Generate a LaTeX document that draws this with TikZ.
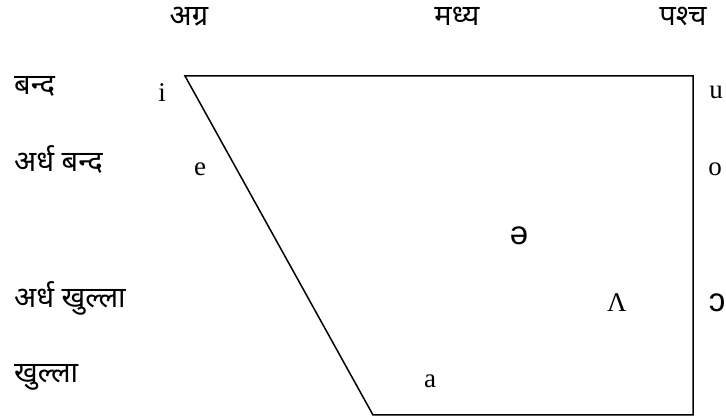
\documentclass[tikz,border=0pt]{standalone}
\usepackage{fontspec}
\setmainfont{Liberation Serif}
\newfontfamily\devfont[Script=Devanagari]{Noto Sans}
\newfontfamily\ipasans{Liberation Sans}
\begin{document}
\begin{tikzpicture}[x=1pt,y=-1pt,
  dev/.style={font=\devfont\fontsize{29}{34}\selectfont, inner sep=0pt},
  lat/.style={font=\fontsize{27}{31}\selectfont, inner sep=0pt},
  ipa/.style={font=\ipasans\fontsize{33}{38}\selectfont, inner sep=0pt},
  edge/.style={draw=black, line width=1.5pt, line join=miter}]
\useasboundingbox (0,0) rectangle (726,419);
% trapezoid corners
\coordinate (tl) at (185,76);
\coordinate (tr) at (693,76);
\coordinate (br) at (693,415);
\coordinate (bl) at (373,415);
\draw[edge] (tl) -- (tr) -- (br) -- (bl) -- cycle;
% column labels
\node[dev, anchor=base] (front) at (189,26) {अग्र};
\node[dev, anchor=base] (central) at (457,26) {मध्य};
\node[dev, anchor=base] (back) at (683,26) {पश्च};
% row labels
\node[dev, anchor=base west] (close) at (14,95) {बन्द};
\node[dev, anchor=base west] (closemid) at (14,172) {अर्ध बन्द};
\node[dev, anchor=base west] (openmid) at (14,308) {अर्ध खुल्ला};
\node[dev, anchor=base west] (open) at (14,383) {खुल्ला};
% vowels
\node[lat, anchor=base] (vi) at (162,102) {i};
\node[lat, anchor=base] (vu) at (716,99) {u};
\node[lat, anchor=base] (ve) at (200,176) {e};
\node[lat, anchor=base] (vo) at (715,176) {o};
\node[ipa] (vschwa) at (519,236) {ə};
\node[lat, anchor=base] (vlam) at (617,312) {Λ};
\node[ipa, anchor=base] (vopen) at (717,312) {ɔ};
\node[lat, anchor=base] (va) at (430,388) {a};
\end{tikzpicture}
\end{document}
